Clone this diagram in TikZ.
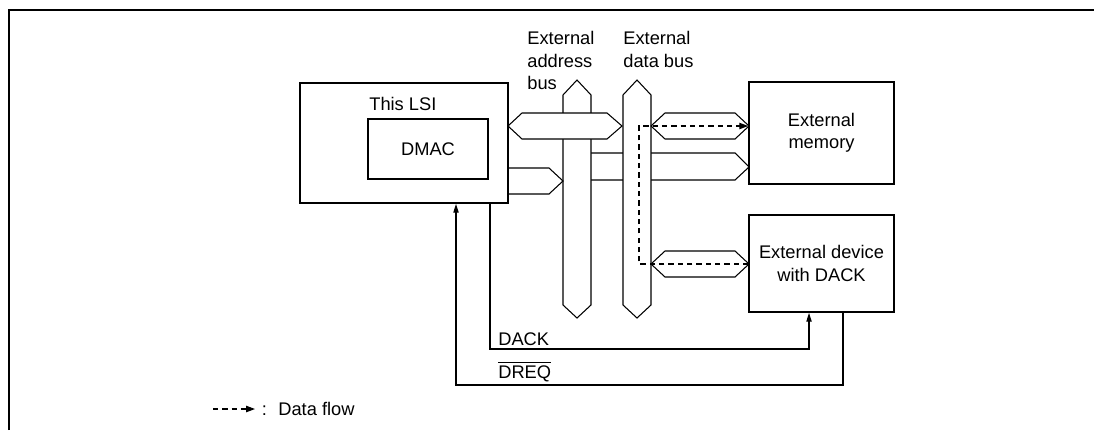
\documentclass[tikz,border=0pt]{standalone}
\usepackage{fontspec}
\setmainfont{Liberation Sans}
\usetikzlibrary{arrows.meta}

\begin{document}
\begin{tikzpicture}[
		x=0.02cm, y=-0.02cm,
		every node/.style={font=\fontsize{10.4}{12.8}\selectfont},
		box/.style={draw, line width=1pt, rectangle, inner sep=0pt},
		bus/.style={draw, line width=0.6pt, fill=white},
		ctrl/.style={line width=0.6pt, -{Triangle[length=5pt,width=3pt]}},
		flow/.style={line width=0.6pt, dash pattern=on 3pt off 2.3pt, -{Triangle[length=5pt,width=3.6pt]}},
		txt/.style={inner sep=0pt, align=left},
	]
	\useasboundingbox (0,0) rectangle (1094,430);
	\draw[line width=1.3pt] (9,430) -- (9,10) -- (1094,10);

	% buses
	\draw[bus] (591,153) -- (735,153) -- (749,167) -- (735,180) -- (591,180);
	\draw[bus] (623,95) -- (637,80) -- (651,95) -- (651,305) -- (637,318) -- (623,305) -- cycle;
	\draw[bus] (563,95) -- (577,80) -- (591,95) -- (591,305) -- (577,318) -- (563,305) -- cycle;
	\draw[bus] (508,168) -- (549,168) -- (563,181) -- (549,194) -- (508,194);
	\draw[bus] (508,126) -- (522,113) -- (607,113) -- (622,126) -- (607,139) -- (522,139) -- cycle;
	\draw[bus] (651,126) -- (665,113) -- (735,113) -- (749,126) -- (735,139) -- (665,139) -- cycle;
	\draw[bus] (651,264) -- (665,251) -- (735,251) -- (749,264) -- (735,277) -- (665,277) -- cycle;
	\node[txt, anchor=north west] (abus) at (527,31) {External\\address\\bus};
	\node[txt, anchor=north west] (dbus) at (623,31) {External\\data bus};

	% blocks
	\node[box, minimum width=4.16cm, minimum height=2.4cm] (lsi) at (404,143) {};
	\node[txt, anchor=west] (lsitxt) at (369,103.5) {This LSI};
	\node[box, minimum width=2.4cm, minimum height=1.2cm] (dmac) at (428,149) {DMAC};
	\node[box, minimum width=2.9cm, minimum height=2.04cm, align=center] (mem) at (821.5,133) {External\\memory};
	\node[box, minimum width=2.9cm, minimum height=1.94cm, align=center] (dev) at (821.5,263.5) {External device\\with DACK};

	% data flow
	\coordinate (tapU) at (639,126);
	\coordinate (tapL) at (639,264);
	\draw[flow] (dev.west |- tapL) -- (tapL) -- (tapU) -- (mem.west |- tapU);

	% handshake
	\coordinate (ackL) at (490,349);
	\coordinate (ackR) at (809,349);
	\draw[ctrl] (lsi.south -| ackL) -- (ackL) -- (ackR) -- (dev.south -| ackR);
	\node[txt, anchor=base west] (acklbl) at (498,345) {DACK};
	\coordinate (reqR) at (843,385);
	\coordinate (reqL) at (456,385);
	\draw[ctrl] (dev.south -| reqR) -- (reqR) -- (reqL) -- (lsi.south -| reqL);
	\node[txt, anchor=base west] (reqlbl) at (498,378) {$\overline{\mbox{DREQ}}$};

	% key
	\coordinate (keyA) at (213,409);
	\node[txt, anchor=west] (keytxt) at (261.5,409) {:\hspace{6.5pt}Data flow};
	\draw[flow] (keyA) -- ([xshift=-3.7pt]keytxt.west);
\end{tikzpicture}
\end{document}
